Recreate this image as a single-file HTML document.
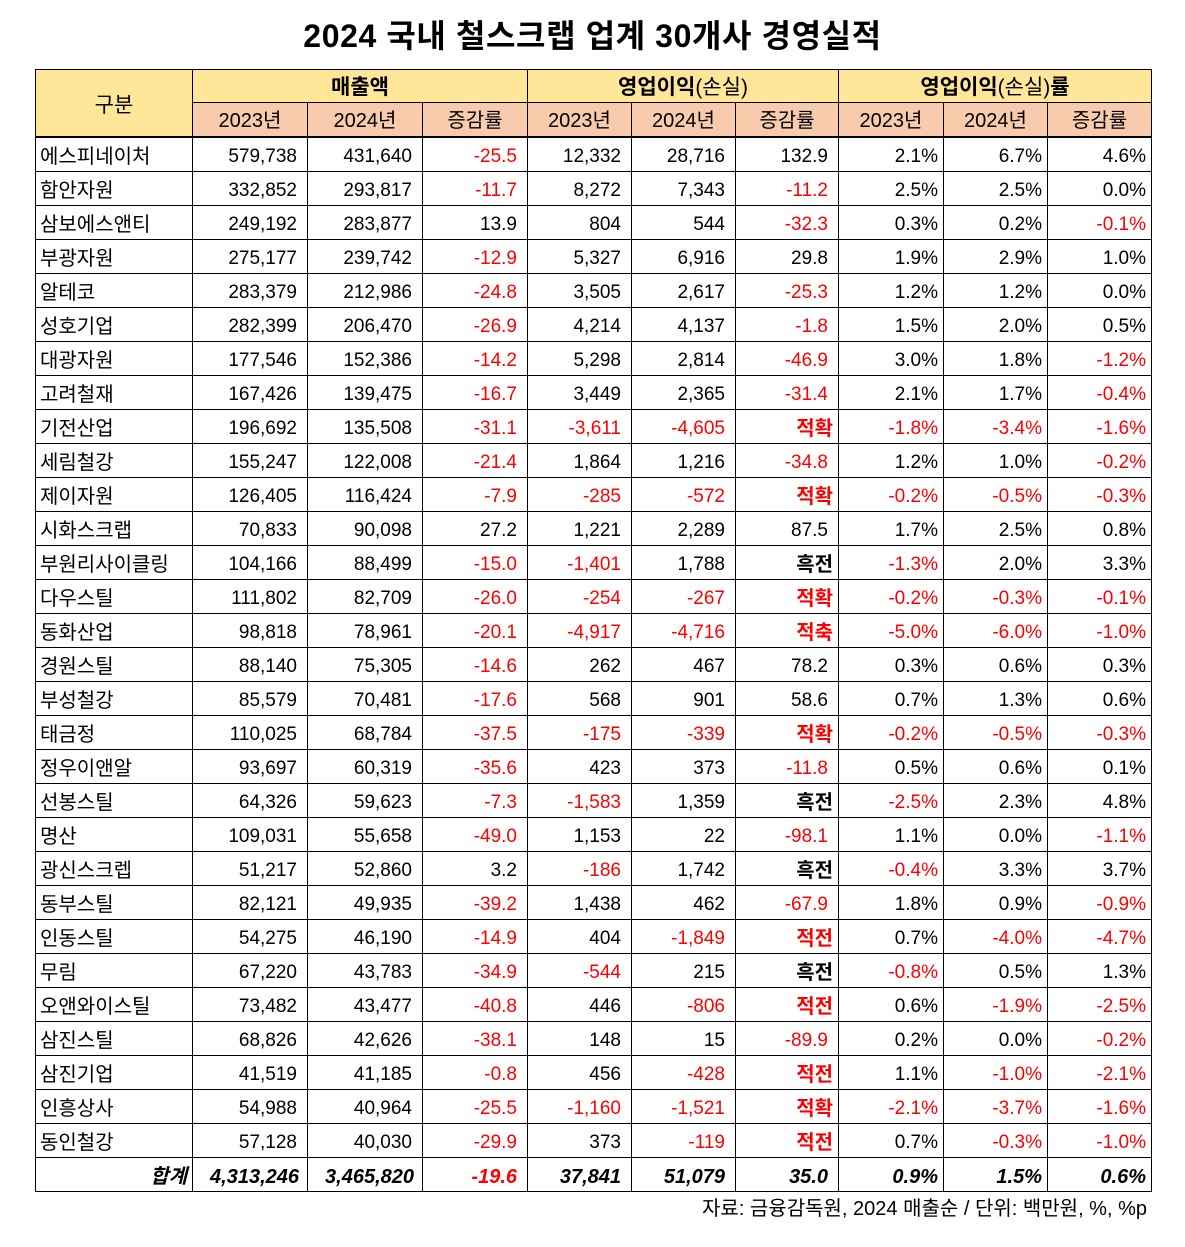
<!DOCTYPE html>
<html><head><meta charset="utf-8">
<style>
html,body{margin:0;padding:0;background:#fff;}
body{width:1185px;height:1247px;position:relative;overflow:hidden;font-family:"Liberation Sans","Noto Sans CJK KR",sans-serif;color:#000;}
.title{position:absolute;left:0;top:14px;width:1185px;text-align:center;font-size:32px;letter-spacing:0.6px;font-weight:bold;line-height:44px;font-family:"Liberation Sans","Noto Sans CJK KR",sans-serif;}
table{position:absolute;left:35px;top:69px;border-collapse:collapse;table-layout:fixed;width:1116px;}
td{border:1px solid #000;padding:0;font-size:19px;line-height:20px;white-space:nowrap;overflow:hidden;}
tr.h1 td{height:28px;padding-top:4px;background:#FFE699;text-align:center;font-size:21px;}
tr.h2 td{height:30px;padding-top:3px;background:#F8CBAD;text-align:center;font-size:20px;border-bottom:2px solid #000;}
tr.d td{height:29px;padding-top:4px;text-align:right;padding-right:10px;}
tr.d td.n{text-align:left;padding-left:4px;padding-right:0;font-size:20px;}
tr.d td.p{padding-right:5px;}
tr.d td.k{padding-right:5px;font-weight:bold;font-size:20px;}
tr.t td{font-weight:bold;font-style:italic;font-size:20px;}
.r{color:#f00;}
.b{font-weight:bold;}
.foot{position:absolute;right:38px;top:1196px;font-size:20px;line-height:26px;}
</style></head><body>
<div class="title">2024 국내 철스크랩 업계 30개사 경영실적</div>
<table>
<colgroup><col style="width:157px"><col style="width:115px"><col style="width:115px"><col style="width:105px"><col style="width:104px"><col style="width:104px"><col style="width:103px"><col style="width:105px"><col style="width:104px"><col style="width:104px"></colgroup>
<tr class="h1"><td rowspan="2" style="border-bottom:2px solid #000;font-size:21px;padding-top:6px;">구분</td><td colspan="3" class="b">매출액</td><td colspan="3"><span class="b">영업이익</span>(손실)</td><td colspan="3"><span class="b">영업이익</span>(손실)<span class="b">률</span></td></tr>
<tr class="h2"><td>2023년</td><td>2024년</td><td>증감률</td><td>2023년</td><td>2024년</td><td>증감률</td><td>2023년</td><td>2024년</td><td>증감률</td></tr>
<tr class="d"><td class="n">에스피네이처</td><td>579,738</td><td>431,640</td><td class="r">-25.5</td><td>12,332</td><td>28,716</td><td>132.9</td><td class="p">2.1%</td><td class="p">6.7%</td><td class="p">4.6%</td></tr>
<tr class="d"><td class="n">함안자원</td><td>332,852</td><td>293,817</td><td class="r">-11.7</td><td>8,272</td><td>7,343</td><td class="r">-11.2</td><td class="p">2.5%</td><td class="p">2.5%</td><td class="p">0.0%</td></tr>
<tr class="d"><td class="n">삼보에스앤티</td><td>249,192</td><td>283,877</td><td>13.9</td><td>804</td><td>544</td><td class="r">-32.3</td><td class="p">0.3%</td><td class="p">0.2%</td><td class="p r">-0.1%</td></tr>
<tr class="d"><td class="n">부광자원</td><td>275,177</td><td>239,742</td><td class="r">-12.9</td><td>5,327</td><td>6,916</td><td>29.8</td><td class="p">1.9%</td><td class="p">2.9%</td><td class="p">1.0%</td></tr>
<tr class="d"><td class="n">알테코</td><td>283,379</td><td>212,986</td><td class="r">-24.8</td><td>3,505</td><td>2,617</td><td class="r">-25.3</td><td class="p">1.2%</td><td class="p">1.2%</td><td class="p">0.0%</td></tr>
<tr class="d"><td class="n">성호기업</td><td>282,399</td><td>206,470</td><td class="r">-26.9</td><td>4,214</td><td>4,137</td><td class="r">-1.8</td><td class="p">1.5%</td><td class="p">2.0%</td><td class="p">0.5%</td></tr>
<tr class="d"><td class="n">대광자원</td><td>177,546</td><td>152,386</td><td class="r">-14.2</td><td>5,298</td><td>2,814</td><td class="r">-46.9</td><td class="p">3.0%</td><td class="p">1.8%</td><td class="p r">-1.2%</td></tr>
<tr class="d"><td class="n">고려철재</td><td>167,426</td><td>139,475</td><td class="r">-16.7</td><td>3,449</td><td>2,365</td><td class="r">-31.4</td><td class="p">2.1%</td><td class="p">1.7%</td><td class="p r">-0.4%</td></tr>
<tr class="d"><td class="n">기전산업</td><td>196,692</td><td>135,508</td><td class="r">-31.1</td><td class="r">-3,611</td><td class="r">-4,605</td><td class="k r">적확</td><td class="p r">-1.8%</td><td class="p r">-3.4%</td><td class="p r">-1.6%</td></tr>
<tr class="d"><td class="n">세림철강</td><td>155,247</td><td>122,008</td><td class="r">-21.4</td><td>1,864</td><td>1,216</td><td class="r">-34.8</td><td class="p">1.2%</td><td class="p">1.0%</td><td class="p r">-0.2%</td></tr>
<tr class="d"><td class="n">제이자원</td><td>126,405</td><td>116,424</td><td class="r">-7.9</td><td class="r">-285</td><td class="r">-572</td><td class="k r">적확</td><td class="p r">-0.2%</td><td class="p r">-0.5%</td><td class="p r">-0.3%</td></tr>
<tr class="d"><td class="n">시화스크랩</td><td>70,833</td><td>90,098</td><td>27.2</td><td>1,221</td><td>2,289</td><td>87.5</td><td class="p">1.7%</td><td class="p">2.5%</td><td class="p">0.8%</td></tr>
<tr class="d"><td class="n">부원리사이클링</td><td>104,166</td><td>88,499</td><td class="r">-15.0</td><td class="r">-1,401</td><td>1,788</td><td class="k">흑전</td><td class="p r">-1.3%</td><td class="p">2.0%</td><td class="p">3.3%</td></tr>
<tr class="d"><td class="n">다우스틸</td><td>111,802</td><td>82,709</td><td class="r">-26.0</td><td class="r">-254</td><td class="r">-267</td><td class="k r">적확</td><td class="p r">-0.2%</td><td class="p r">-0.3%</td><td class="p r">-0.1%</td></tr>
<tr class="d"><td class="n">동화산업</td><td>98,818</td><td>78,961</td><td class="r">-20.1</td><td class="r">-4,917</td><td class="r">-4,716</td><td class="k r">적축</td><td class="p r">-5.0%</td><td class="p r">-6.0%</td><td class="p r">-1.0%</td></tr>
<tr class="d"><td class="n">경원스틸</td><td>88,140</td><td>75,305</td><td class="r">-14.6</td><td>262</td><td>467</td><td>78.2</td><td class="p">0.3%</td><td class="p">0.6%</td><td class="p">0.3%</td></tr>
<tr class="d"><td class="n">부성철강</td><td>85,579</td><td>70,481</td><td class="r">-17.6</td><td>568</td><td>901</td><td>58.6</td><td class="p">0.7%</td><td class="p">1.3%</td><td class="p">0.6%</td></tr>
<tr class="d"><td class="n">태금정</td><td>110,025</td><td>68,784</td><td class="r">-37.5</td><td class="r">-175</td><td class="r">-339</td><td class="k r">적확</td><td class="p r">-0.2%</td><td class="p r">-0.5%</td><td class="p r">-0.3%</td></tr>
<tr class="d"><td class="n">정우이앤알</td><td>93,697</td><td>60,319</td><td class="r">-35.6</td><td>423</td><td>373</td><td class="r">-11.8</td><td class="p">0.5%</td><td class="p">0.6%</td><td class="p">0.1%</td></tr>
<tr class="d"><td class="n">선봉스틸</td><td>64,326</td><td>59,623</td><td class="r">-7.3</td><td class="r">-1,583</td><td>1,359</td><td class="k">흑전</td><td class="p r">-2.5%</td><td class="p">2.3%</td><td class="p">4.8%</td></tr>
<tr class="d"><td class="n">명산</td><td>109,031</td><td>55,658</td><td class="r">-49.0</td><td>1,153</td><td>22</td><td class="r">-98.1</td><td class="p">1.1%</td><td class="p">0.0%</td><td class="p r">-1.1%</td></tr>
<tr class="d"><td class="n">광신스크렙</td><td>51,217</td><td>52,860</td><td>3.2</td><td class="r">-186</td><td>1,742</td><td class="k">흑전</td><td class="p r">-0.4%</td><td class="p">3.3%</td><td class="p">3.7%</td></tr>
<tr class="d"><td class="n">동부스틸</td><td>82,121</td><td>49,935</td><td class="r">-39.2</td><td>1,438</td><td>462</td><td class="r">-67.9</td><td class="p">1.8%</td><td class="p">0.9%</td><td class="p r">-0.9%</td></tr>
<tr class="d"><td class="n">인동스틸</td><td>54,275</td><td>46,190</td><td class="r">-14.9</td><td>404</td><td class="r">-1,849</td><td class="k r">적전</td><td class="p">0.7%</td><td class="p r">-4.0%</td><td class="p r">-4.7%</td></tr>
<tr class="d"><td class="n">무림</td><td>67,220</td><td>43,783</td><td class="r">-34.9</td><td class="r">-544</td><td>215</td><td class="k">흑전</td><td class="p r">-0.8%</td><td class="p">0.5%</td><td class="p">1.3%</td></tr>
<tr class="d"><td class="n">오앤와이스틸</td><td>73,482</td><td>43,477</td><td class="r">-40.8</td><td>446</td><td class="r">-806</td><td class="k r">적전</td><td class="p">0.6%</td><td class="p r">-1.9%</td><td class="p r">-2.5%</td></tr>
<tr class="d"><td class="n">삼진스틸</td><td>68,826</td><td>42,626</td><td class="r">-38.1</td><td>148</td><td>15</td><td class="r">-89.9</td><td class="p">0.2%</td><td class="p">0.0%</td><td class="p r">-0.2%</td></tr>
<tr class="d"><td class="n">삼진기업</td><td>41,519</td><td>41,185</td><td class="r">-0.8</td><td>456</td><td class="r">-428</td><td class="k r">적전</td><td class="p">1.1%</td><td class="p r">-1.0%</td><td class="p r">-2.1%</td></tr>
<tr class="d"><td class="n">인흥상사</td><td>54,988</td><td>40,964</td><td class="r">-25.5</td><td class="r">-1,160</td><td class="r">-1,521</td><td class="k r">적확</td><td class="p r">-2.1%</td><td class="p r">-3.7%</td><td class="p r">-1.6%</td></tr>
<tr class="d"><td class="n">동인철강</td><td>57,128</td><td>40,030</td><td class="r">-29.9</td><td>373</td><td class="r">-119</td><td class="k r">적전</td><td class="p">0.7%</td><td class="p r">-0.3%</td><td class="p r">-1.0%</td></tr>
<tr class="d t"><td style="text-align:right;padding-right:5px;">합계</td><td style="padding-right:8px">4,313,246</td><td style="padding-right:8px">3,465,820</td><td class="r">-19.6</td><td>37,841</td><td>51,079</td><td>35.0</td><td class="p">0.9%</td><td class="p">1.5%</td><td class="p">0.6%</td></tr>
</table>
<div class="foot">자료: 금융감독원, 2024 매출순 / 단위: 백만원, %, %p</div>
</body></html>
